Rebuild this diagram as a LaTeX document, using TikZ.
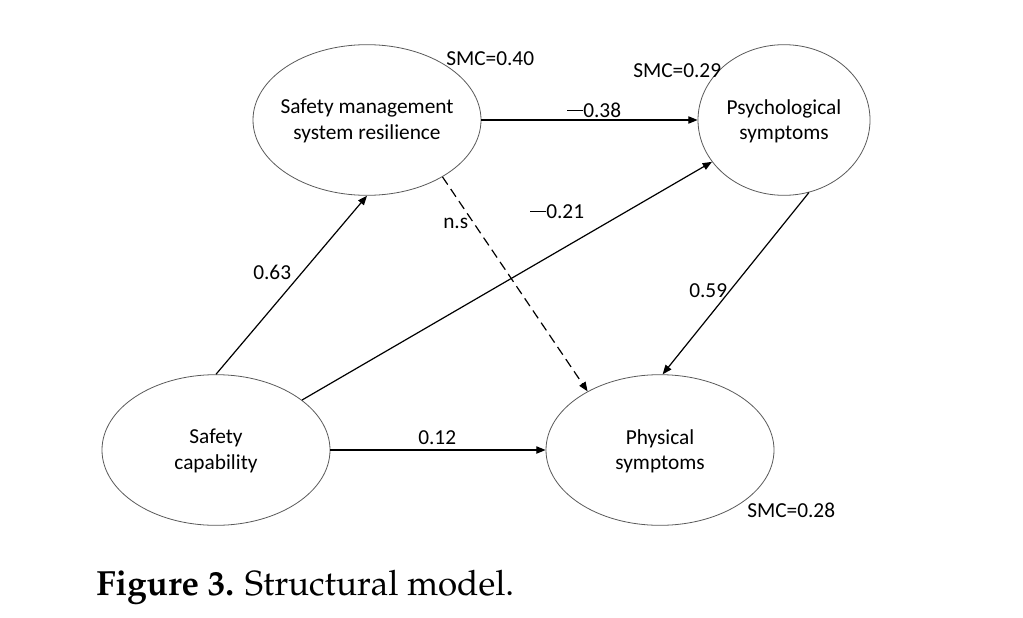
\documentclass[tikz,border=0pt]{standalone}
\usepackage[T1]{fontenc}
\usepackage{fontspec}
\setmainfont{Carlito}
\usetikzlibrary{shapes.geometric,arrows.meta}
\definecolor{ellcol}{HTML}{5A5A5A}
\begin{document}
\begin{tikzpicture}[x=0.75pt,y=-0.75pt,
  latent/.style={ellipse,draw=ellcol,line width=0.6pt,inner sep=0pt,minimum width=171pt,minimum height=113pt},
  vartext/.style={align=center,font=\fontsize{16}{19}\selectfont},
  lab/.style={font=\fontsize{16}{19}\selectfont,inner sep=0pt},
  path/.style={line width=0.9pt,-{Triangle[length=7pt,width=5.5pt]}},
  nspath/.style={path,dash pattern=on 7pt off 4pt}]
\useasboundingbox (0,0) rectangle (1023,617);
\fill[white] (0,0) rectangle (1023,617);
% latent variables
\node[latent] (smsr) at (367,120) {};
\node[latent,minimum width=129pt] (psy) at (784,120) {};
\node[latent] (sc) at (216,450) {};
\node[latent] (phy) at (660,450) {};
\node[vartext] (smsrt) at (367,121) {Safety management\\system resilience};
\node[vartext] (psyt) at (784,121) {Psychological\\symptoms};
\node[vartext] (sct) at (216,451) {Safety\\capability};
\node[vartext] (phyt) at (660,451) {Physical\\symptoms};
% paths
\draw[path] (sc.north) -- (smsr.south);
\draw[path] (smsr.east) -- (psy.west);
\draw[path] (sc) -- (psy);
\draw[nspath] (smsr.-37) -- (phy.141);
\draw[path] (psy.-71) -- (phy.88);
\draw[path] (sc.east) -- (phy.west);
% labels
\node[lab,anchor=base west] (smc1) at (446,65) {SMC=0.40};
\node[lab,anchor=base west] (smc2) at (633,77) {SMC=0.29};
\node[lab,anchor=base west] (smc3) at (747,517) {SMC=0.28};
\node[lab,anchor=base west] (l1) at (567,117) {\rule[0.28em]{0.75em}{0.7pt}0.38};
\node[lab,anchor=base west] (l2) at (530,218) {\rule[0.28em]{0.75em}{0.7pt}0.21};
\node[lab,anchor=base west] (l3) at (443,228) {n.s};
\node[lab,anchor=base west] (l4) at (253,279) {0.63};
\node[lab,anchor=base west] (l5) at (689,297) {0.59};
\node[lab,anchor=base west] (l6) at (418,444) {0.12};
% caption
\node[anchor=base west,inner sep=0pt,font={\fontencoding{T1}\fontfamily{ppl}\fontsize{26.2}{31}\selectfont}] (cap) at (96,595) {\textbf{Figure 3.} Structural model.};
\end{tikzpicture}
\end{document}
